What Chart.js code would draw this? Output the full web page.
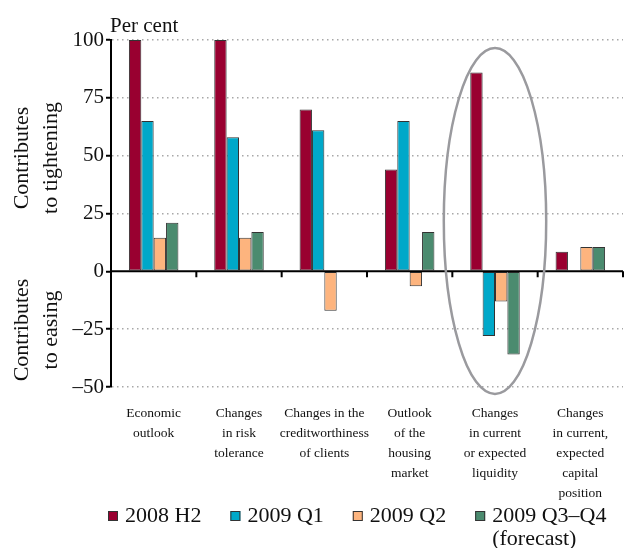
<!DOCTYPE html>
<html>
<head>
<meta charset="utf-8">
<script src="https://cdn.jsdelivr.net/npm/chart.js@4/dist/chart.umd.min.js"></script>
<style>
  html, body { margin: 0; padding: 0; background: #fff; }
  #wrap { width: 627px; height: 548px; }
</style>
</head>
<body>
<div id="wrap"><canvas id="chart"></canvas></div>
<script>
// Categories (multi-line labels)
const categories = [
  ['Economic', 'outlook'],
  ['Changes', 'in risk', 'tolerance'],
  ['Changes in the', 'creditworthiness', 'of clients'],
  ['Outlook', 'of the', 'housing', 'market'],
  ['Changes', 'in current', 'or expected', 'liquidity'],
  ['Changes', 'in current,', 'expected', 'capital', 'position']
];

// Series values (per cent)
const series2008H2 = [100, 100, 70, 44, 86, 8.5];
const series2009Q1 = [65, 58, 61, 65, -28, null];
const series2009Q2 = [14.5, 14.5, -17, -6.5, -13, 10.5];
const series2009Q34 = [21, 17, null, 17, -36, 10.5];

const seriesLabels = ['2008 H2', '2009 Q1', '2009 Q2', '2009 Q3–Q4'];
const seriesColors = ['#990030', '#00a8c9', '#fdb47e', '#4b8b6f'];

// Y axis ticks
const yMin = -50;
const yMax = 100;
const yStep = 25;

const serif = "'Liberation Serif', 'Times New Roman', serif";

const values = [series2008H2, series2009Q1, series2009Q2, series2009Q34];

// Extra drawing: titles, zero axis, ellipse and legend
const extras = {
  id: 'extras',
  afterDatasetsDraw(chart) {
    const ctx = chart.ctx;
    const x = chart.scales.x;
    const y = chart.scales.y;
    const area = chart.chartArea;
    const y0 = y.getPixelForValue(0);
    const half = (x.getPixelForValue(1) - x.getPixelForValue(0)) / 2;

    // zero axis line with tick marks between categories
    ctx.save();
    ctx.strokeStyle = '#000';
    ctx.lineWidth = 2;
    ctx.beginPath();
    ctx.moveTo(area.left, y0);
    ctx.lineTo(area.right, y0);
    for (let i = 0; i <= categories.length; i++) {
      const px = x.getPixelForValue(0) - half + i * half * 2;
      ctx.moveTo(px, y0);
      ctx.lineTo(px, y0 + 6);
    }
    ctx.stroke();

    // ellipse around the liquidity category
    const cx = x.getPixelForValue(4);
    const top = y.getPixelForValue(96.5);
    const bottom = y.getPixelForValue(-53);
    ctx.strokeStyle = '#9a9a9e';
    ctx.lineWidth = 2.5;
    ctx.beginPath();
    ctx.ellipse(cx, (top + bottom) / 2, half * 1.2, (bottom - top) / 2, 0, 0, Math.PI * 2);
    ctx.stroke();
    ctx.restore();
  },
  afterDraw(chart) {
    const ctx = chart.ctx;
    ctx.save();
    ctx.fillStyle = '#111';

    // unit label
    ctx.font = '21px ' + serif;
    ctx.textBaseline = 'alphabetic';
    ctx.textAlign = 'left';
    ctx.fillText('Per cent', 110, 32);

    // rotated side titles
    ctx.font = '22px ' + serif;
    ctx.textAlign = 'center';
    ctx.textBaseline = 'middle';
    const side = (lines, cy) => {
      lines.forEach((t, i) => {
        ctx.save();
        ctx.translate(22 + i * 29, cy);
        ctx.rotate(-Math.PI / 2);
        ctx.fillText(t, 0, 0);
        ctx.restore();
      });
    };
    side(['Contributes', 'to tightening'], 158);
    side(['Contributes', 'to easing'], 330);

    // legend
    ctx.font = '22px ' + serif;
    ctx.textAlign = 'left';
    ctx.textBaseline = 'middle';
    let lx = 108;
    const ly = 516;
    seriesLabels.forEach((label, i) => {
      ctx.fillStyle = seriesColors[i];
      ctx.fillRect(lx, ly - 5, 10, 10);
      ctx.strokeStyle = '#333';
      ctx.lineWidth = 1;
      ctx.strokeRect(lx + 0.5, ly - 4.5, 9, 9);
      ctx.fillStyle = '#111';
      ctx.fillText(label, lx + 17, ly);
      if (i === seriesLabels.length - 1) {
        ctx.fillText('(forecast)', lx + 17, ly + 23);
      }
      lx += 17 + ctx.measureText(label).width + 29;
    });
    ctx.restore();
  }
};

new Chart(document.getElementById('chart'), {
  type: 'bar',
  data: {
    labels: categories,
    datasets: seriesLabels.map((label, i) => ({
      label: label,
      data: values[i],
      backgroundColor: seriesColors[i],
      borderColor: '#333',
      borderWidth: 1,
      borderSkipped: false,
      barPercentage: 1,
      categoryPercentage: 0.58
    }))
  },
  options: {
    responsive: true,
    maintainAspectRatio: false,
    animation: false,
    layout: { padding: { top: 40, right: 4, bottom: 0, left: 0 } },
    plugins: {
      legend: { display: false },
      tooltip: { enabled: false }
    },
    scales: {
      x: {
        grid: { display: false },
        border: { display: false },
        ticks: {
          color: '#111',
          padding: 8,
          maxRotation: 0,
          autoSkip: false,
          font: { family: serif, size: 13.5, lineHeight: '20px' }
        },
        afterFit: s => { s.height = 161; }
      },
      y: {
        min: yMin,
        max: yMax,
        ticks: {
          stepSize: yStep,
          color: '#111',
          padding: 2,
          font: { family: serif, size: 21 },
          callback: v => v < 0 ? '–' + Math.abs(v) : String(v)
        },
        grid: {
          color: c => c.tick && c.tick.value === 0 ? 'rgba(0,0,0,0)' : '#a8a8a8',
          lineWidth: 1.5,
          tickColor: '#000',
          tickLength: 5,
          tickWidth: 2
        },
        border: { color: '#000', width: 2, dash: [1.5, 3.5] },
        afterFit: s => { s.width = 111; }
      }
    }
  },
  plugins: [extras]
});
</script>
</body>
</html>
